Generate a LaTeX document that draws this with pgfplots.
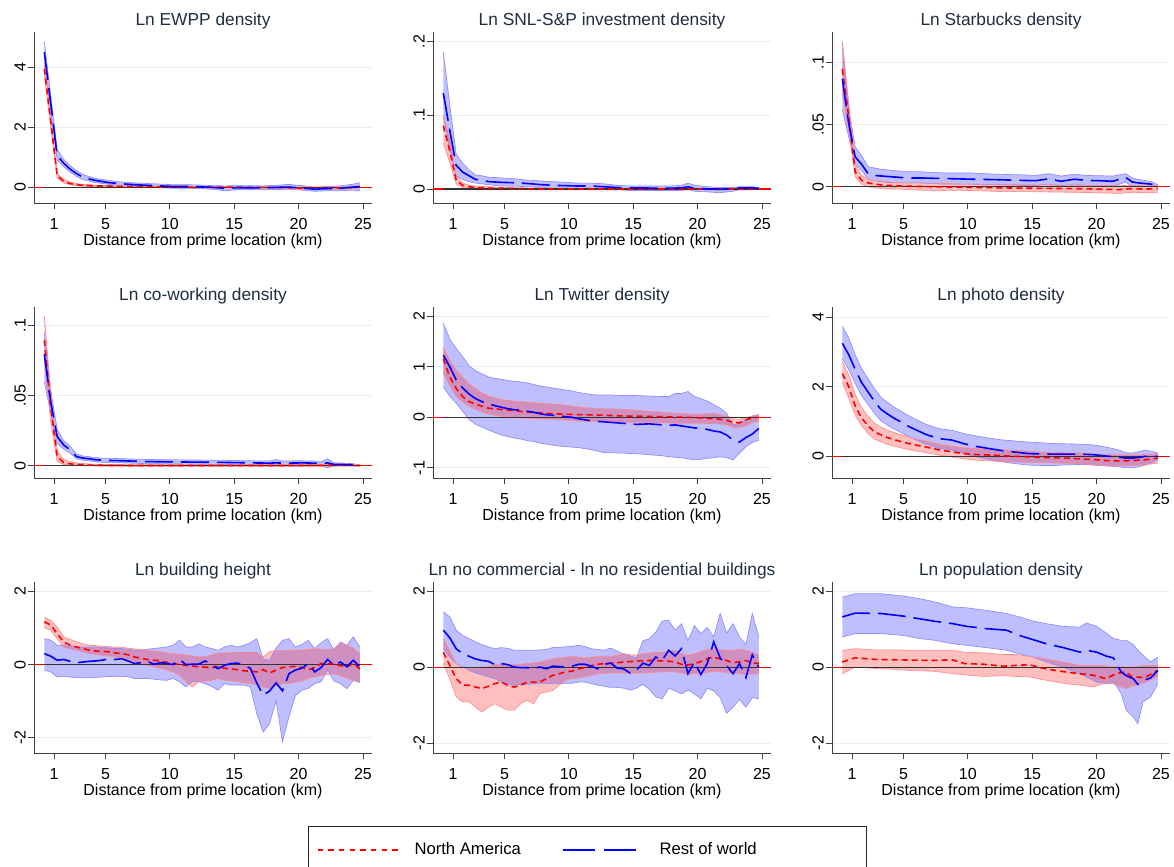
\documentclass[border=0pt]{standalone}
\usepackage{fontspec}
\setmainfont{Liberation Sans}
\usepackage{pgfplots}
\usepackage{pgfplotstable}
\usepgfplotslibrary{fillbetween}
\pgfplotsset{compat=1.18}
\definecolor{titlec}{RGB}{30,45,65}
\definecolor{gridc}{RGB}{232,240,242}

% ---------- Panel 1: EWPP ----------
\pgfplotstableread{
x m lo hi
0.25 3.95 3.72 4.18
0.75 2.20 2.02 2.38
1.25 0.38 0.30 0.47
1.75 0.20 0.14 0.26
2.25 0.12 0.08 0.17
2.75 0.08 0.05 0.12
3.25 0.06 0.03 0.09
3.75 0.05 0.02 0.08
4.25 0.04 0.02 0.06
5.25 0.03 0.01 0.05
6.25 0.02 0.00 0.04
7.25 0.02 0.00 0.04
8.25 0.01 -0.01 0.03
10.25 0.00 -0.02 0.02
12.25 0.00 -0.02 0.02
14.25 0.00 -0.02 0.02
16.25 -0.01 -0.03 0.01
18.25 -0.01 -0.03 0.01
19.25 -0.02 -0.04 0.00
20.25 -0.04 -0.07 -0.01
21.25 -0.03 -0.06 0.00
22.25 -0.04 -0.07 -0.01
23.25 -0.03 -0.06 0.00
24.25 -0.01 -0.04 0.02
24.75 0.00 -0.03 0.03
}\PaN
\pgfplotstableread{
x m lo hi
0.25 4.50 4.15 4.85
0.75 2.80 2.55 3.05
1.25 1.05 0.90 1.25
1.75 0.80 0.68 0.93
2.25 0.60 0.50 0.71
2.75 0.45 0.36 0.55
3.25 0.33 0.25 0.42
3.75 0.27 0.20 0.35
4.25 0.22 0.15 0.29
5.25 0.15 0.09 0.22
6.25 0.11 0.05 0.17
7.25 0.08 0.03 0.14
8.25 0.06 0.00 0.12
9.25 0.04 -0.02 0.10
10.25 0.02 -0.04 0.08
11.25 0.02 -0.04 0.08
12.25 0.01 -0.05 0.07
13.25 -0.01 -0.07 0.05
14.25 -0.04 -0.12 0.04
15.25 -0.02 -0.09 0.05
16.25 -0.02 -0.08 0.05
17.25 -0.03 -0.09 0.04
18.25 -0.01 -0.08 0.06
19.25 0.00 -0.07 0.09
20.25 -0.03 -0.10 0.05
21.25 -0.07 -0.14 0.00
22.25 -0.05 -0.12 0.02
23.25 -0.04 -0.12 0.04
24.25 0.00 -0.10 0.10
24.75 0.02 -0.12 0.15
}\PaR

% ---------- Panel 2: SNL ----------
\pgfplotstableread{
x m lo hi
0.25 0.086 0.062 0.100
0.75 0.052 0.036 0.068
1.25 0.012 0.007 0.018
1.75 0.005 0.002 0.008
2.25 0.003 0.001 0.005
2.75 0.002 0.000 0.004
3.75 0.001 0.000 0.003
5.25 0.001 0.000 0.002
7.25 0.000 -0.001 0.001
10.25 0.000 -0.001 0.001
14.25 0.000 -0.001 0.001
18.25 0.000 -0.001 0.001
21.25 0.000 -0.001 0.001
24.75 0.000 -0.001 0.001
}\PbN
\pgfplotstableread{
x m lo hi
0.25 0.130 0.100 0.186
0.75 0.080 0.055 0.115
1.25 0.032 0.018 0.047
1.75 0.023 0.013 0.035
2.25 0.018 0.010 0.026
2.75 0.013 0.008 0.019
3.25 0.012 0.007 0.018
3.75 0.010 0.006 0.016
4.75 0.009 0.004 0.015
5.75 0.0085 0.004 0.014
6.75 0.0075 0.003 0.012
7.75 0.006 0.002 0.011
8.75 0.005 0.001 0.010
9.75 0.0045 0.001 0.009
10.75 0.004 0.000 0.008
11.75 0.004 0.000 0.008
12.75 0.003 -0.001 0.007
13.75 0.002 -0.001 0.005
14.75 0.0015 -0.002 0.004
15.75 0.0015 -0.002 0.004
16.75 0.001 -0.002 0.004
17.75 0.001 -0.002 0.004
18.75 0.0015 -0.002 0.005
19.25 0.003 -0.001 0.008
19.75 0.001 -0.003 0.005
20.75 0.000 -0.004 0.003
21.75 -0.0005 -0.005 0.002
22.75 0.000 -0.003 0.002
23.25 0.0015 -0.001 0.003
24.25 0.0015 0.000 0.003
24.75 0.001 0.000 0.002
}\PbR

% ---------- Panel 3: Starbucks ----------
\pgfplotstableread{
x m lo hi
0.25 0.095 0.075 0.115
0.75 0.056 0.045 0.068
1.25 0.012 0.008 0.018
1.75 0.005 0.002 0.009
2.25 0.003 0.000 0.006
2.75 0.002 -0.001 0.005
3.75 0.001 -0.002 0.004
4.75 0.0005 -0.002 0.003
6.75 0.000 -0.003 0.003
9.75 -0.0005 -0.003 0.002
12.75 -0.001 -0.004 0.002
14.75 -0.0013 -0.004 0.0015
17.75 -0.0016 -0.0045 0.0012
19.75 -0.0019 -0.0048 0.001
21.75 -0.0024 -0.0055 0.0007
22.75 -0.0016 -0.0045 0.0012
23.75 -0.002 -0.005 0.001
24.75 -0.0016 -0.0045 0.0012
}\PcN
\pgfplotstableread{
x m lo hi
0.25 0.087 0.062 0.117
0.75 0.051 0.040 0.063
1.25 0.024 0.018 0.032
1.75 0.018 0.013 0.025
2.25 0.0105 0.006 0.016
2.75 0.009 0.005 0.015
3.25 0.0086 0.004 0.014
4.25 0.0078 0.003 0.013
5.25 0.007 0.003 0.012
6.25 0.007 0.003 0.012
8.25 0.0065 0.002 0.011
10.25 0.006 0.002 0.011
12.25 0.0056 0.0015 0.010
14.25 0.005 0.001 0.0095
15.25 0.0048 0.001 0.009
16.25 0.0062 0.002 0.0105
17.25 0.0043 0.0005 0.0085
18.25 0.006 0.002 0.010
19.25 0.005 0.001 0.009
20.25 0.0048 0.001 0.0088
21.25 0.0043 0.0005 0.0085
22.25 0.0075 0.0035 0.0105
22.75 0.0038 0.0005 0.007
23.25 0.003 0.0003 0.0058
24.25 0.002 0.0002 0.004
24.75 0.0005 0.0 0.0015
}\PcR

% ---------- Panel 4: co-working ----------
\pgfplotstableread{
x m lo hi
0.25 0.0896 0.075 0.107
0.75 0.042 0.032 0.052
1.25 0.0066 0.003 0.011
1.75 0.0024 0.001 0.0045
2.25 0.0014 0.0004 0.003
2.75 0.001 0.0002 0.002
3.75 0.0005 0.0 0.0013
5.25 0.0003 -0.0003 0.0009
8.25 0.0002 -0.0004 0.0008
12.25 0.0002 -0.0004 0.0008
16.25 0.0002 -0.0004 0.0008
20.25 0.0002 -0.0004 0.0008
23.75 0.0005 -0.0002 0.0012
24.75 0.0002 -0.0003 0.0007
}\PdN
\pgfplotstableread{
x m lo hi
0.25 0.0796 0.060 0.095
0.75 0.0457 0.038 0.054
1.25 0.0209 0.016 0.026
1.75 0.0149 0.012 0.018
2.25 0.0114 0.009 0.014
2.75 0.0066 0.005 0.0085
3.25 0.0055 0.004 0.007
3.75 0.005 0.0035 0.0065
4.25 0.0043 0.0028 0.0058
5.25 0.0038 0.0023 0.0053
6.25 0.0036 0.0021 0.0051
7.25 0.0033 0.0018 0.0048
8.25 0.003 0.0015 0.0045
10.25 0.0028 0.0013 0.0043
12.25 0.0026 0.0011 0.0041
14.25 0.0024 0.0009 0.0039
16.25 0.0021 0.0006 0.0036
17.75 0.0019 0.0004 0.0034
18.25 0.0021 0.0005 0.0045
18.75 0.0019 0.0004 0.0034
19.75 0.002 0.0005 0.0036
20.25 0.0021 0.0006 0.0036
21.25 0.0019 0.0004 0.0034
21.75 0.0014 0.0 0.0028
22.25 0.0021 -0.0015 0.0050
22.75 0.001 0.0 0.002
23.25 0.001 0.0 0.002
24.25 0.0007 0.0 0.0015
24.75 0.0002 0.0 0.0005
}\PdR

% ---------- Panel 5: Twitter ----------
\pgfplotstableread{
x m lo hi
0.25 1.16 0.87 1.39
0.75 0.80 0.62 1.13
1.25 0.57 0.41 0.93
1.75 0.41 0.30 0.80
2.25 0.31 0.22 0.66
2.75 0.26 0.16 0.57
3.25 0.22 0.10 0.48
3.75 0.18 0.06 0.42
4.75 0.155 0.02 0.35
5.75 0.13 0.00 0.32
6.75 0.105 -0.02 0.30
7.75 0.09 -0.03 0.28
8.75 0.07 -0.045 0.26
9.75 0.06 -0.055 0.24
11.25 0.05 -0.08 0.19
12.75 0.04 -0.09 0.17
14.25 0.026 -0.10 0.16
15.75 0.02 -0.10 0.13
17.25 0.01 -0.11 0.10
18.75 0.003 -0.12 0.07
19.75 -0.005 -0.12 0.06
20.75 -0.02 -0.12 0.07
21.25 -0.03 -0.125 0.08
21.75 -0.04 -0.13 0.05
22.25 -0.06 -0.15 0.02
22.75 -0.10 -0.20 -0.03
23.25 -0.11 -0.20 -0.04
23.75 -0.05 -0.17 -0.01
24.25 -0.01 -0.10 0.03
24.75 0.00 -0.085 0.05
}\PeN
\pgfplotstableread{
x m lo hi
0.25 1.23 0.60 1.86
0.75 1.00 0.42 1.55
1.25 0.74 0.28 1.36
1.75 0.58 0.12 1.20
2.25 0.46 -0.04 1.02
2.75 0.37 -0.14 0.92
3.25 0.31 -0.19 0.86
3.75 0.27 -0.25 0.80
4.25 0.23 -0.30 0.77
4.75 0.20 -0.35 0.75
5.25 0.17 -0.38 0.73
5.75 0.15 -0.41 0.71
6.25 0.14 -0.43 0.70
6.75 0.12 -0.46 0.68
7.25 0.10 -0.48 0.65
7.75 0.07 -0.51 0.62
8.25 0.05 -0.53 0.60
8.75 0.04 -0.55 0.58
9.25 0.03 -0.57 0.56
9.75 0.01 -0.58 0.54
10.25 0.00 -0.59 0.52
10.75 -0.03 -0.60 0.49
11.25 -0.05 -0.62 0.47
11.75 -0.07 -0.64 0.45
12.25 -0.08 -0.67 0.44
12.75 -0.09 -0.70 0.44
13.25 -0.10 -0.70 0.44
14.25 -0.12 -0.71 0.43
15.25 -0.14 -0.72 0.43
16.25 -0.13 -0.74 0.42
17.25 -0.15 -0.76 0.41
17.75 -0.16 -0.78 0.41
18.25 -0.15 -0.79 0.47
18.75 -0.17 -0.80 0.47
19.25 -0.19 -0.82 0.51
19.75 -0.21 -0.84 0.41
20.25 -0.22 -0.83 0.37
20.75 -0.24 -0.81 0.32
21.25 -0.27 -0.80 0.25
21.75 -0.29 -0.78 0.18
22.25 -0.35 -0.80 0.08
22.75 -0.45 -0.84 -0.15
23.25 -0.49 -0.71 -0.12
23.75 -0.40 -0.58 -0.05
24.25 -0.33 -0.50 0.02
24.75 -0.22 -0.45 0.05
}\PeR

% ---------- Panel 6: photo ----------
\pgfplotstableread{
x m lo hi
0.25 2.38 2.12 2.72
0.75 2.00 1.68 2.35
1.25 1.45 1.18 1.78
1.75 1.10 0.88 1.40
2.25 0.88 0.66 1.15
2.75 0.70 0.50 0.95
3.25 0.62 0.42 0.84
3.75 0.54 0.35 0.75
4.75 0.43 0.25 0.63
5.75 0.34 0.17 0.52
6.75 0.27 0.11 0.44
7.75 0.19 0.04 0.36
8.75 0.13 -0.02 0.29
9.75 0.08 -0.07 0.25
10.75 0.05 -0.11 0.22
11.75 0.04 -0.13 0.21
12.75 0.02 -0.15 0.19
13.75 0.00 -0.16 0.17
14.75 -0.01 -0.17 0.15
15.75 -0.03 -0.18 0.12
16.75 -0.04 -0.19 0.11
17.75 -0.05 -0.20 0.10
18.75 -0.07 -0.21 0.095
19.75 -0.09 -0.24 0.07
20.75 -0.12 -0.27 0.05
21.75 -0.13 -0.28 0.047
22.75 -0.12 -0.26 0.047
23.75 -0.10 -0.24 0.047
24.75 -0.05 -0.19 0.09
}\PfN
\pgfplotstableread{
x m lo hi
0.25 3.25 2.80 3.74
0.75 2.92 2.50 3.40
1.25 2.50 2.10 2.92
1.75 2.12 1.74 2.52
2.25 1.85 1.49 2.23
2.75 1.58 1.24 1.94
3.25 1.35 1.02 1.70
3.75 1.22 0.90 1.55
4.25 1.10 0.79 1.42
4.75 1.00 0.70 1.31
5.25 0.89 0.60 1.20
5.75 0.80 0.51 1.10
6.75 0.63 0.35 0.92
7.75 0.51 0.23 0.80
8.75 0.47 0.18 0.75
9.75 0.36 0.07 0.65
10.75 0.28 -0.02 0.58
11.75 0.22 -0.10 0.52
12.75 0.16 -0.16 0.47
13.75 0.12 -0.21 0.44
14.75 0.08 -0.25 0.41
15.75 0.07 -0.26 0.39
16.75 0.066 -0.26 0.37
17.75 0.066 -0.24 0.36
18.75 0.066 -0.23 0.35
19.75 0.05 -0.25 0.33
20.75 0.01 -0.27 0.27
21.75 -0.02 -0.30 0.18
22.25 -0.047 -0.32 0.11
22.75 -0.047 -0.33 0.095
23.25 -0.03 -0.30 0.13
23.75 0.00 -0.25 0.18
24.25 0.00 -0.18 0.15
24.75 0.00 -0.095 0.095
}\PfR

% ---------- Panel 7: building height ----------
\pgfplotstableread{
x m lo hi
0.25 1.17 1.01 1.30
0.75 1.08 0.94 1.21
1.25 0.85 0.71 1.03
1.75 0.62 0.48 0.76
2.25 0.53 0.43 0.69
2.75 0.48 0.39 0.62
3.25 0.44 0.35 0.57
3.75 0.39 0.30 0.53
4.25 0.37 0.28 0.52
4.75 0.36 0.25 0.50
5.25 0.35 0.23 0.49
5.75 0.32 0.21 0.48
6.25 0.30 0.18 0.47
6.75 0.27 0.14 0.45
7.25 0.21 0.08 0.43
7.75 0.17 0.04 0.41
8.25 0.14 -0.02 0.39
8.75 0.12 -0.06 0.37
9.25 0.10 -0.10 0.35
9.75 0.06 -0.15 0.32
10.25 0.03 -0.20 0.30
10.75 0.00 -0.30 0.28
11.25 -0.02 -0.47 0.26
11.75 -0.04 -0.61 0.24
12.25 -0.06 -0.47 0.21
12.75 -0.07 -0.45 0.22
13.25 -0.08 -0.43 0.26
13.75 -0.06 -0.38 0.32
14.25 -0.10 -0.43 0.32
14.75 -0.12 -0.45 0.33
15.25 -0.14 -0.47 0.33
15.75 -0.17 -0.50 0.33
16.25 -0.18 -0.52 0.33
16.75 -0.20 -0.55 0.33
17.25 -0.14 -0.62 0.21
17.75 -0.23 -0.66 0.35
18.25 -0.15 -0.58 0.39
18.75 -0.08 -0.52 0.39
19.25 -0.06 -0.52 0.39
19.75 -0.05 -0.48 0.40
20.25 -0.08 -0.45 0.40
20.75 -0.14 -0.38 0.42
21.25 -0.08 -0.34 0.44
21.75 0.03 -0.30 0.42
22.25 0.02 -0.27 0.40
22.75 0.02 -0.25 0.45
23.25 -0.03 -0.30 0.58
23.75 -0.06 -0.37 0.53
24.25 0.03 -0.43 0.45
24.75 -0.12 -0.50 0.30
}\PgN
\pgfplotstableread{
x m lo hi
0.25 0.30 -0.15 0.71
0.75 0.23 -0.20 0.67
1.25 0.12 -0.34 0.53
1.75 0.14 -0.32 0.53
2.25 0.09 -0.34 0.50
2.75 0.05 -0.36 0.48
3.25 0.07 -0.36 0.48
3.75 0.09 -0.36 0.48
4.25 0.10 -0.35 0.48
4.75 0.12 -0.34 0.46
5.25 0.16 -0.33 0.46
5.75 0.14 -0.32 0.44
6.25 0.16 -0.32 0.44
6.75 0.10 -0.33 0.42
7.25 0.03 -0.38 0.39
7.75 0.05 -0.38 0.40
8.25 0.09 -0.38 0.42
8.75 0.01 -0.40 0.44
9.25 0.05 -0.42 0.46
9.75 0.03 -0.43 0.48
10.25 0.00 -0.38 0.53
10.75 0.14 -0.47 0.67
11.25 0.00 -0.61 0.48
11.75 0.01 -0.47 0.48
12.25 0.01 -0.47 0.57
12.75 0.10 -0.52 0.48
13.25 -0.02 -0.60 0.44
13.75 -0.11 -0.70 0.39
14.25 -0.02 -0.52 0.48
14.75 0.03 -0.56 0.53
15.25 0.04 -0.56 0.48
15.75 -0.02 -0.56 0.53
16.25 -0.10 -0.61 0.60
16.75 -0.50 -1.34 0.71
17.25 -0.84 -1.85 0.15
17.75 -0.72 -1.61 0.12
18.25 -0.50 -0.98 0.45
18.75 -0.72 -2.11 0.66
19.25 -0.25 -1.43 0.71
19.75 -0.15 -0.85 0.48
20.25 -0.10 -0.70 0.55
20.75 0.03 -0.65 0.66
21.25 -0.20 -0.52 0.44
21.75 -0.08 -0.47 0.60
22.25 0.14 -0.15 0.71
22.75 -0.02 -0.45 0.39
23.25 0.07 -0.52 0.62
23.75 -0.06 -0.66 0.53
24.25 0.12 -0.43 0.76
24.75 -0.06 -0.47 0.48
}\PgR

% ---------- Panel 8: commercial - residential ----------
\pgfplotstableread{
x m lo hi
0.25 0.40 0.10 0.76
0.75 0.05 -0.30 0.45
1.25 -0.30 -0.78 0.10
1.75 -0.47 -0.91 -0.04
2.25 -0.47 -0.91 -0.04
2.75 -0.52 -1.05 -0.02
3.25 -0.56 -1.18 0.00
3.75 -0.50 -1.05 0.02
4.25 -0.43 -0.96 0.06
4.75 -0.39 -1.05 0.10
5.25 -0.47 -1.13 0.08
5.75 -0.52 -1.13 0.07
6.25 -0.47 -0.96 0.08
6.75 -0.39 -0.87 0.10
7.25 -0.39 -0.96 0.12
7.75 -0.39 -0.69 0.14
8.25 -0.30 -0.65 0.18
8.75 -0.21 -0.61 0.23
9.25 -0.17 -0.47 0.25
9.75 -0.12 -0.34 0.27
10.25 -0.10 -0.30 0.29
10.75 -0.04 -0.28 0.27
11.25 -0.01 -0.25 0.25
11.75 0.05 -0.21 0.27
12.25 0.08 -0.17 0.29
12.75 0.10 -0.16 0.29
13.25 0.11 -0.15 0.29
13.75 0.12 -0.15 0.32
14.25 0.14 -0.15 0.36
14.75 0.15 -0.15 0.33
15.25 0.17 -0.16 0.32
15.75 0.17 -0.15 0.36
16.25 0.18 -0.14 0.38
16.75 0.18 -0.13 0.40
17.25 0.17 -0.12 0.40
17.75 0.16 -0.12 0.42
18.25 0.14 -0.12 0.45
18.75 0.08 -0.15 0.36
19.25 0.06 -0.19 0.32
19.75 0.10 -0.17 0.36
20.25 0.15 -0.15 0.42
20.75 0.23 -0.14 0.47
21.25 0.27 -0.10 0.49
21.75 0.22 -0.12 0.47
22.25 0.18 -0.14 0.45
22.75 0.12 -0.16 0.45
23.25 0.15 -0.17 0.48
23.75 0.18 -0.19 0.45
24.25 0.12 -0.18 0.40
24.75 0.10 -0.17 0.32
}\PhN
\pgfplotstableread{
x m lo hi
0.25 0.98 0.49 1.46
0.75 0.78 0.27 1.33
1.25 0.49 0.10 0.98
1.75 0.36 0.01 0.84
2.25 0.29 -0.08 0.76
2.75 0.22 -0.15 0.67
3.25 0.18 -0.20 0.60
3.75 0.16 -0.25 0.54
4.25 0.07 -0.30 0.49
4.75 0.10 -0.39 0.52
5.25 0.07 -0.43 0.50
5.75 0.01 -0.47 0.45
6.25 -0.01 -0.46 0.45
6.75 -0.01 -0.45 0.45
7.25 -0.04 -0.44 0.45
7.75 0.01 -0.43 0.46
8.25 -0.04 -0.43 0.47
8.75 0.03 -0.43 0.52
9.25 0.02 -0.43 0.53
9.75 0.01 -0.42 0.54
10.25 0.03 -0.42 0.55
10.75 0.08 -0.39 0.58
11.25 0.08 -0.39 0.55
11.75 0.03 -0.43 0.49
12.25 -0.04 -0.47 0.47
12.75 0.08 -0.50 0.45
13.25 0.11 -0.53 0.51
13.75 -0.02 -0.53 0.43
14.25 -0.04 -0.55 0.35
14.75 -0.15 -0.60 0.30
15.25 -0.08 -0.55 0.25
15.75 0.11 -0.45 0.70
16.25 0.05 -0.58 0.75
16.75 0.27 -0.78 0.93
17.25 0.18 -0.83 1.22
17.75 0.45 -0.55 1.24
18.25 0.30 -0.62 0.98
18.75 0.49 -0.70 1.15
19.25 -0.17 -0.60 0.70
19.75 0.14 -0.70 1.10
20.25 -0.19 -0.83 0.89
20.75 0.10 -0.55 1.05
21.25 0.67 -0.62 0.80
21.75 0.25 -0.80 1.42
22.25 0.05 -1.21 0.90
22.75 -0.17 -1.05 1.15
23.25 0.10 -0.85 0.80
23.75 -0.27 -1.05 0.60
24.25 0.33 -0.80 1.42
24.75 0.00 -0.83 0.80
}\PhR

% ---------- Panel 9: population ----------
\pgfplotstableread{
x m lo hi
0.25 0.14 -0.17 0.45
1.25 0.25 0.01 0.49
2.75 0.21 -0.03 0.46
4.25 0.20 -0.05 0.46
5.75 0.19 -0.09 0.45
7.25 0.18 -0.10 0.45
8.75 0.20 -0.16 0.45
9.75 0.10 -0.20 0.40
11.25 0.08 -0.24 0.38
12.75 0.03 -0.22 0.34
13.75 0.05 -0.24 0.34
14.75 0.07 -0.25 0.29
15.75 -0.02 -0.32 0.24
16.75 -0.08 -0.38 0.18
17.75 -0.13 -0.44 0.12
18.75 -0.17 -0.47 0.05
19.75 -0.21 -0.52 0.05
20.75 -0.30 -0.40 0.04
21.25 -0.21 -0.43 0.01
21.75 -0.15 -0.50 0.01
22.25 -0.12 -0.56 0.01
22.75 -0.25 -0.50 0.01
23.75 -0.27 -0.40 0.05
24.75 -0.08 -0.25 0.05
}\PiN
\pgfplotstableread{
x m lo hi
0.25 1.33 0.80 1.85
1.25 1.43 0.89 1.94
3.25 1.42 0.89 1.94
5.0 1.35 0.84 1.88
6.25 1.28 0.76 1.81
7.5 1.21 0.71 1.72
8.85 1.15 0.62 1.59
9.9 1.08 0.58 1.57
11.45 1.02 0.52 1.50
13.0 0.98 0.45 1.42
14.0 0.84 0.36 1.33
15.07 0.73 0.27 1.22
16.1 0.62 0.14 1.15
17.4 0.52 0.00 1.08
18.7 0.40 -0.17 1.06
19.2 0.45 -0.25 1.17
20.0 0.40 -0.39 1.08
20.8 0.29 -0.43 0.89
21.3 0.25 -0.40 0.76
21.55 0.10 -0.50 0.74
21.9 -0.12 -0.69 0.71
22.3 -0.22 -1.13 0.71
22.85 -0.30 -1.31 0.60
23.2 -0.45 -1.49 0.45
23.6 -0.35 -0.91 0.32
24.2 -0.28 -0.78 0.14
24.75 -0.08 -0.43 0.27
}\PiR

\pgfplotsset{
  panel/.style={
    scale only axis, width=253.5pt, height=128.25pt, anchor=south west,
    xmin=-0.55, xmax=25.7,
    axis x line*=bottom, axis y line*=left,
    axis line style={black!75, line width=0.6pt, -},
    xtick={1,5,10,15,20,25}, xticklabels={1,5,10,15,20,25},
    tick align=outside, major tick length=4.5pt,
    tick style={black!75, line width=0.6pt},
    ymajorgrids, grid style={gridc, line width=0.8pt},
    ticklabel style={font=\fontsize{12}{14}\selectfont},
    xticklabel style={anchor=north, inner sep=0pt},
    xticklabel shift=6.8pt,
    yticklabel style={rotate=90, anchor=south, inner sep=0pt},
    yticklabel shift=1.5pt,
    every axis title/.style={at={(0.5,1)}, anchor=base, inner sep=0pt, yshift=5pt,
      font=\fontsize{13}{15}\selectfont, color=titlec},
    xlabel={Distance from prime location (km)},
    xlabel style={font=\fontsize{12}{14}\selectfont, at={(axis description cs:0.5,0)}, anchor=base, yshift=-31.5pt},
  },
  nalegend/.style={legend image code/.code={\draw[red, line width=1.5pt, dash pattern=on 4pt off 4pt] (0pt,0pt) -- (60pt,0pt);}},
  rwlegend/.style={legend image code/.code={\draw[blue, line width=1.5pt, dash pattern=on 24.5pt off 6.75pt] (0pt,0pt) -- (54.75pt,0pt);}},
}

\newcommand{\drawpanel}[2]{%
  \addplot[name path=rl, draw=blue!45, line width=0.5pt, forget plot] table[x=x,y=lo]{#2};
  \addplot[name path=rh, draw=blue!45, line width=0.5pt, forget plot] table[x=x,y=hi]{#2};
  \addplot[fill=blue, fill opacity=0.25, draw=none, forget plot] fill between[of=rl and rh];
  \addplot[name path=nl, draw=red!45, line width=0.5pt, forget plot] table[x=x,y=lo]{#1};
  \addplot[name path=nh, draw=red!45, line width=0.5pt, forget plot] table[x=x,y=hi]{#1};
  \addplot[fill=red, fill opacity=0.25, draw=none, forget plot] fill between[of=nl and nh];
  \addplot[red, line width=0.9pt, forget plot] coordinates {(-0.55,0) (25.7,0)};
  \addplot[black!80, line width=0.9pt, forget plot] coordinates {(0.25,0) (24.75,0)};
  \addplot[red, line width=1.2pt, dash pattern=on 4.5pt off 3pt, forget plot] table[x=x,y=m]{#1};
  \addplot[blue, line width=1.2pt, dash pattern=on 21pt off 6pt, forget plot] table[x=x,y=m]{#2};
}

\begin{document}
\begin{tikzpicture}

% Row 1
\begin{axis}[panel, at={(25.5pt,-152.25pt)}, title={Ln EWPP density},
  ymin=-0.53, ymax=5.17, ytick={0,2,4}, yticklabels={0,2,4}]
\drawpanel{\PaN}{\PaR}
\end{axis}
\begin{axis}[panel, at={(324.75pt,-152.25pt)}, title={Ln SNL-S\&P investment density},
  ymin=-0.019, ymax=0.213, ytick={0,0.1,0.2}, yticklabels={0,.1,.2}]
\drawpanel{\PbN}{\PbR}
\end{axis}
\begin{axis}[panel, at={(624pt,-152.25pt)}, title={Ln Starbucks density},
  ymin=-0.0132, ymax=0.1247, ytick={0,0.05,0.1}, yticklabels={0,.05,.1}]
\drawpanel{\PcN}{\PcR}
\end{axis}

% Row 2
\begin{axis}[panel, at={(25.5pt,-358.5pt)}, title={Ln co-working density},
  ymin=-0.0087, ymax=0.1133, ytick={0,0.05,0.1}, yticklabels={0,.05,.1}]
\drawpanel{\PdN}{\PdR}
\end{axis}
\begin{axis}[panel, at={(324.75pt,-358.5pt)}, title={Ln Twitter density},
  ymin=-1.2, ymax=2.18, ytick={-1,0,1,2}, yticklabels={-1,0,1,2}]
\drawpanel{\PeN}{\PeR}
\end{axis}
\begin{axis}[panel, at={(624pt,-358.5pt)}, title={Ln photo density},
  ymin=-0.62, ymax=4.29, ytick={0,2,4}, yticklabels={0,2,4}]
\drawpanel{\PfN}{\PfR}
\end{axis}

% Row 3
\begin{axis}[panel, at={(25.5pt,-564.75pt)}, title={Ln building height},
  ymin=-2.42, ymax=2.26, ytick={-2,0,2}, yticklabels={-2,0,2}]
\drawpanel{\PgN}{\PgR}
\end{axis}
\begin{axis}[panel, at={(324.75pt,-564.75pt)}, title={Ln no commercial - ln no residential buildings},
  ymin=-2.26, ymax=2.25, ytick={-2,0,2}, yticklabels={-2,0,2},
  legend style={at={(-0.3698,-0.4269)}, anchor=north west, draw=black!85, line width=0.75pt,
    fill=white, inner xsep=6pt, inner ysep=10pt, legend columns=2,
    font=\fontsize{12.5}{15}\selectfont,
    nodes={inner xsep=0pt, inner ysep=2pt},
    /tikz/every odd column/.append style={column sep=12pt},
    /tikz/every even column/.append style={column sep=0pt}},
  legend cell align=left]
\drawpanel{\PhN}{\PhR}
\addlegendimage{nalegend}
\addlegendentry{\makebox[110.25pt][l]{North America}}
\addlegendimage{rwlegend}
\addlegendentry{\makebox[154.5pt][l]{\hspace{5.25pt}Rest of world}}
\end{axis}
\begin{axis}[panel, at={(624pt,-564.75pt)}, title={Ln population density},
  ymin=-2.26, ymax=2.25, ytick={-2,0,2}, yticklabels={-2,0,2}]
\drawpanel{\PiN}{\PiR}
\end{axis}

\pgfresetboundingbox
\useasboundingbox (0,0) rectangle (880.5pt,-650.25pt);
\end{tikzpicture}
\end{document}
